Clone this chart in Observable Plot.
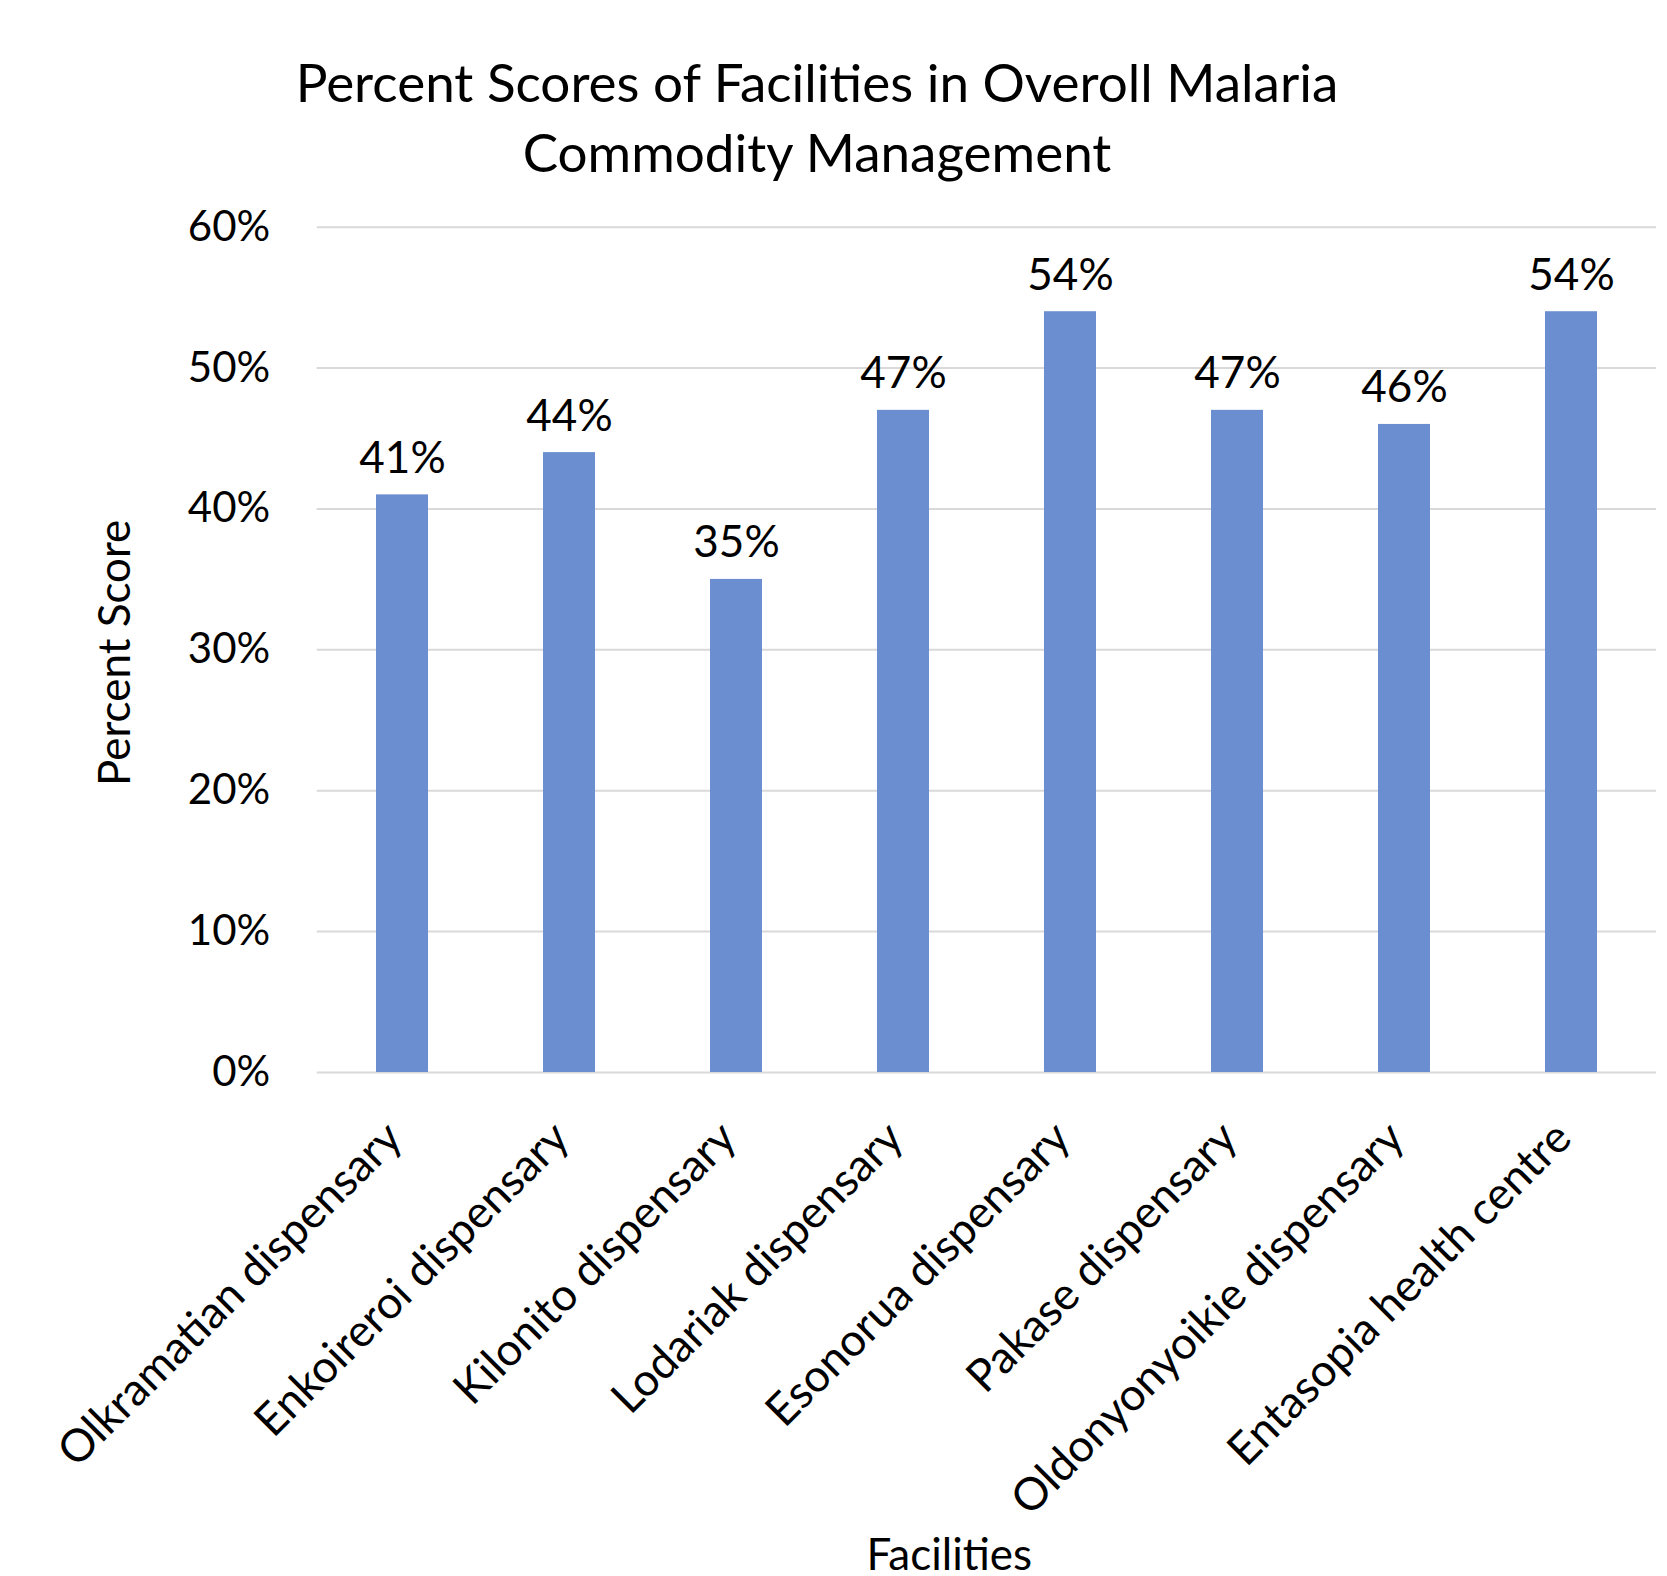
<!DOCTYPE html>
<html><head><meta charset="utf-8">
<script src="https://cdn.jsdelivr.net/npm/d3@7"></script>
<script src="https://cdn.jsdelivr.net/npm/@observablehq/plot@0.6"></script>
<style>
body{margin:0;background:#fff;font-family:Lato,sans-serif;}
#wrap{position:relative;width:1667px;}
#title{height:200px;position:relative;}
#title div{position:absolute;left:0;width:1634px;text-align:center;font-size:53px;line-height:70px;top:47px;color:#000;}
</style></head><body>
<div id="wrap"><div id="title"><div>Percent Scores of Facilities in Overoll Malaria<br>Commodity Management</div></div><div id="chart"></div></div>
<script>
const facilities = ["Olkramatian dispensary","Enkoireroi dispensary","Kilonito dispensary","Lodariak dispensary","Esonorua dispensary","Pakase dispensary","Oldonyonyoikie dispensary","Entasopia health centre"];
const scores = [0.41,0.44,0.35,0.47,0.54,0.47,0.46,0.54];
const yTicks = [0,0.1,0.2,0.3,0.4,0.5,0.6];
const yTitle = "Percent Score";
const xTitle = "Facilities";
const data = facilities.map((f,i)=>({facility:f, score:scores[i]}));
const fmt = d3.format(".0%");
const chart = Plot.plot({
  width:1667, height:1376, marginTop:26.7, marginBottom:504, marginLeft:316.7, marginRight:11,
  style:{fontFamily:"Lato, sans-serif", color:"#000", background:"#fff"},
  x:{domain:facilities, paddingInner:0.69, paddingOuter:0.345, align:0.5},
  y:{domain:[0,0.6]},
  marks:[
    Plot.ruleY(yTicks,{stroke:"#d9d9d9", strokeWidth:2}),
    Plot.barY(data,{x:"facility", y:"score", fill:"#6a8ecf"}),
    Plot.text(data,{x:"facility", y:"score", text:d=>fmt(d.score), lineAnchor:"bottom", dy:-22, fontSize:44, fill:"#000"}),
    Plot.axisY({ticks:yTicks, tickFormat:fmt, tickSize:0, tickPadding:47, fontSize:42, label:null}),
    Plot.axisX({tickRotate:-45, tickSize:0, tickPadding:58, dx:-8, fontSize:45, label:null}),
    Plot.text([yTitle],{frameAnchor:"left", textAnchor:"middle", lineAnchor:"middle", rotate:-90, dx:-201.7, dy:3, fontSize:44, fill:"#000"}),
    Plot.text([xTitle],{frameAnchor:"bottom", textAnchor:"middle", dx:-37.5, dy:497, lineAnchor:"bottom", fontSize:44, fill:"#000"})
  ]
});
document.getElementById("chart").appendChild(chart);
</script>
</body></html>
